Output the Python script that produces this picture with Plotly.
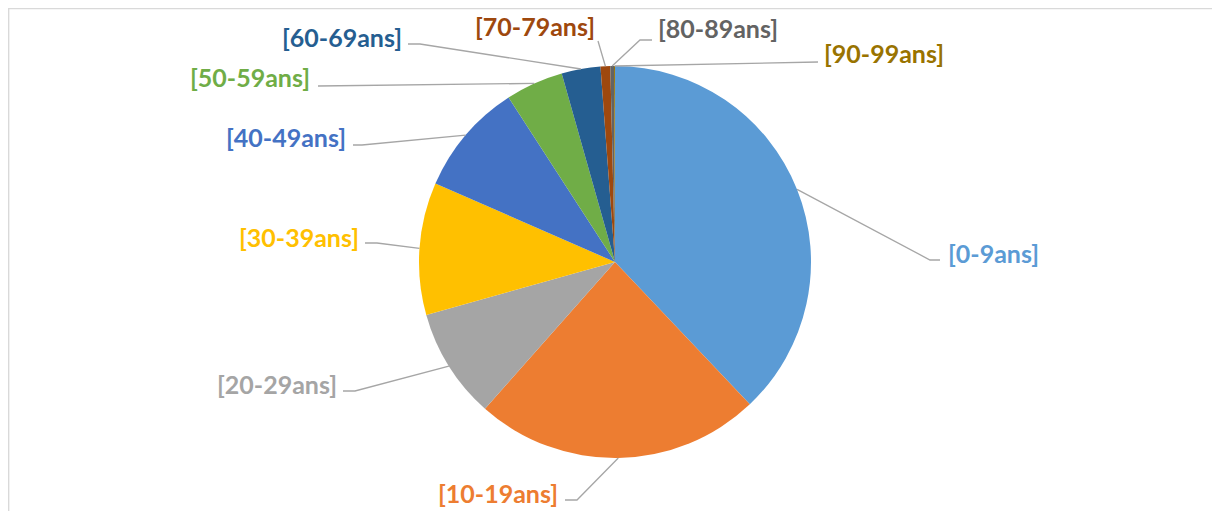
import math
import plotly.graph_objects as go

categories = ["[0-9ans]", "[10-19ans]", "[20-29ans]", "[30-39ans]", "[40-49ans]",
              "[50-59ans]", "[60-69ans]", "[70-79ans]", "[80-89ans]", "[90-99ans]"]
values = [37.9, 23.6, 9.1, 10.9, 9.3, 4.75, 3.2, 0.8, 0.3, 0.08]
colors = ["#5B9BD5", "#ED7D31", "#A5A5A5", "#FFC000", "#4472C4",
          "#70AD47", "#255E91", "#9E480E", "#636363", "#997300"]

OFF = 8  # page body margin in the browser
W, H = 1220 - OFF, 511 - OFF
CX, CY, R = 615, 262, 196

# label layout (page pixels): elbow points of the leader line, text anchor, alignment
label_layout = [
    ([(930, 260), (940, 260)], (946, 253), "left"),
    ([(577, 500), (565, 500)], (560, 493), "right"),
    ([(355, 391), (343, 391)], (339, 384), "right"),
    ([(377, 243), (365, 243)], (361, 237), "right"),
    ([(362, 145), (353, 145)], (348, 137), "right"),
    ([(318, 86)], (312, 77), "right"),
    ([(420, 44), (408, 44)], (404, 37), "right"),
    ([(598, 41)], (535, 26), "center"),
    ([(640, 40), (652, 40)], (656, 28), "left"),
    ([(818, 62)], (822, 53), "left"),
]

def px(x, y):
    return (x - OFF) / W, 1 - (y - OFF) / H

dx0, dy1 = px(CX - R, CY - R)
dx1, dy0 = px(CX + R, CY + R)

fig = go.Figure(go.Pie(
    labels=categories, values=values, sort=False, direction="clockwise", rotation=0,
    marker=dict(colors=colors, line=dict(width=0)),
    textinfo="none", hoverinfo="label+percent", showlegend=False,
    domain=dict(x=[dx0, dx1], y=[dy0, dy1]),
))

total = sum(values)
cum = 0.0
shapes = []
annotations = []
for cat, v, col, (elbows, (tx, ty), align) in zip(categories, values, colors, label_layout):
    mid = (cum + v / 2) / total * 2 * math.pi
    cum += v
    ax_, ay_ = CX + R * math.sin(mid), CY - R * math.cos(mid)
    pts = [(ax_, ay_)] + elbows
    path = ""
    for i, (x, y) in enumerate(pts):
        xp, yp = px(x, y)
        path += ("M" if i == 0 else " L") + f"{xp:.5f},{yp:.5f}"
    shapes.append(dict(type="path", path=path, xref="paper", yref="paper",
                       line=dict(color="#A6A6A6", width=1.3)))
    xp, yp = px(tx, ty)
    annotations.append(dict(text=cat, x=xp, y=yp, xref="paper", yref="paper",
                            xanchor=align, yanchor="middle", showarrow=False,
                            font=dict(family="Lato", size=25, color=col, weight="bold")))

# outer frame (only left and top edges visible)
fx, fy = 0.6 / W, 1 - 0.6 / H
shapes.append(dict(type="path", xref="paper", yref="paper",
                   path=f"M{fx:.5f},0 L{fx:.5f},{fy:.5f} L1,{fy:.5f}",
                   line=dict(color="#D9D9D9", width=1.5)))

fig.update_layout(width=W, height=H, margin=dict(l=0, r=0, t=0, b=0),
                  paper_bgcolor="white", plot_bgcolor="white",
                  shapes=shapes, annotations=annotations)
fig.write_html("out.html")
